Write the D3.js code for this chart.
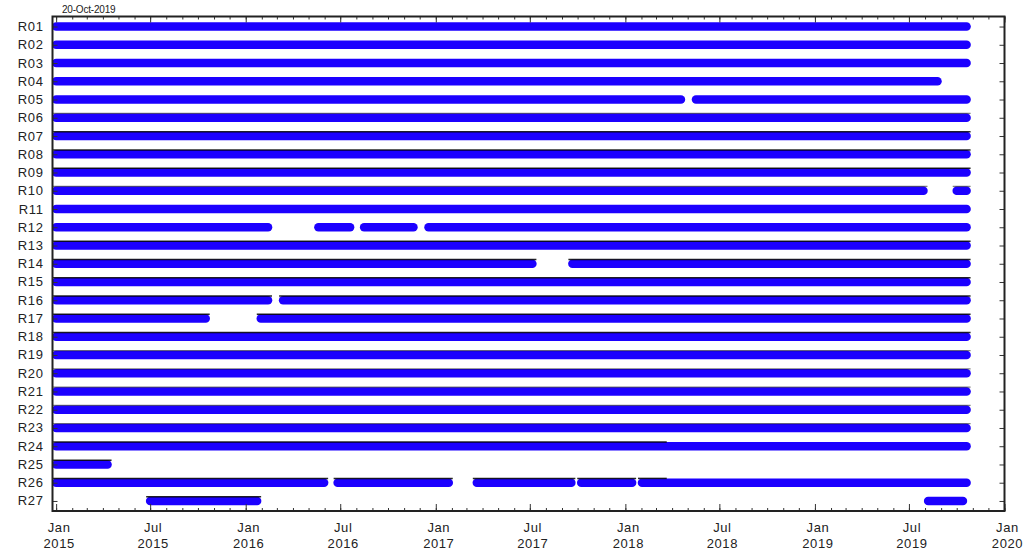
<!DOCTYPE html>
<html><head><meta charset="utf-8">
<script src="https://cdn.jsdelivr.net/npm/d3@7"></script>
<style>
html,body{margin:0;padding:0;background:#fff;}
svg{display:block;font-family:"Liberation Sans",Arial,sans-serif;}
</style></head>
<body><svg id="chart" width="1025" height="554"></svg>
<script>
// ---------- data ----------
const title = "20-Oct-2019";
const stations = ["R01","R02","R03","R04","R05","R06","R07","R08","R09","R10","R11","R12","R13","R14",
  "R15","R16","R17","R18","R19","R20","R21","R22","R23","R24","R25","R26","R27"];
const xDomain = ["2014-12-25","2020-01-01"];
// blue availability segments: [station, start, end]
const blueSegs = [
  ["R01","2015-01-01","2019-10-20"],
  ["R02","2015-01-01","2019-10-20"],
  ["R03","2015-01-01","2019-10-20"],
  ["R04","2015-01-01","2019-08-25"],
  ["R05","2015-01-01","2018-04-18"],["R05","2018-05-17","2019-10-20"],
  ["R06","2015-01-01","2019-10-20"],
  ["R07","2015-01-01","2019-10-20"],
  ["R08","2015-01-01","2019-10-20"],
  ["R09","2015-01-01","2019-10-20"],
  ["R10","2015-01-01","2019-07-29"],["R10","2019-10-01","2019-10-20"],
  ["R11","2015-01-01","2019-10-20"],
  ["R12","2015-01-01","2016-02-13"],["R12","2016-05-20","2016-07-20"],["R12","2016-08-16","2016-11-19"],["R12","2016-12-18","2019-10-20"],
  ["R13","2015-01-01","2019-10-20"],
  ["R14","2015-01-01","2017-07-06"],["R14","2017-09-21","2019-10-20"],
  ["R15","2015-01-01","2019-10-20"],
  ["R16","2015-01-01","2016-02-13"],["R16","2016-03-13","2019-10-20"],
  ["R17","2015-01-01","2015-10-16"],["R17","2016-01-30","2019-10-20"],
  ["R18","2015-01-01","2019-10-20"],
  ["R19","2015-01-01","2019-10-20"],
  ["R20","2015-01-01","2019-10-20"],
  ["R21","2015-01-01","2019-10-20"],
  ["R22","2015-01-01","2019-10-20"],
  ["R23","2015-01-01","2019-10-20"],
  ["R24","2015-01-01","2019-10-20"],
  ["R25","2015-01-01","2015-04-10"],
  ["R26","2015-01-01","2016-05-31"],["R26","2016-06-26","2017-01-26"],["R26","2017-03-21","2017-09-19"],["R26","2017-10-08","2018-01-14"],["R26","2018-02-02","2019-10-20"],
  ["R27","2015-07-01","2016-01-23"],["R27","2019-08-07","2019-10-13"]
];
// black availability segments (strongly visible)
const blackSegsStrong = [
  ["R07","2015-01-01","2019-10-20"],
  ["R08","2015-01-01","2019-10-20"],
  ["R09","2015-01-01","2019-10-20"],
  ["R13","2015-01-01","2019-10-20"],
  ["R14","2015-01-01","2017-07-06"],["R14","2017-09-21","2019-10-20"],
  ["R15","2015-01-01","2019-10-20"],
  ["R16","2015-01-01","2016-02-13"],["R16","2016-03-13","2019-10-20"],
  ["R17","2015-01-01","2015-10-16"],["R17","2016-01-30","2019-10-20"],
  ["R18","2015-01-01","2019-10-20"],
  ["R24","2015-01-01","2018-03-14"],
  ["R25","2015-01-01","2015-04-10"],
  ["R26","2015-01-01","2016-05-31"],["R26","2016-06-26","2017-01-26"],["R26","2017-03-21","2017-09-19"],["R26","2017-10-08","2018-01-14"],["R26","2018-02-02","2018-03-14"],
  ["R27","2015-07-01","2016-01-23"]
];
// black availability segments (faintly visible)
const blackSegsFaint = [
  ["R06","2015-01-01","2019-10-20"],
  ["R10","2015-01-01","2019-07-29"],["R10","2019-10-01","2019-10-20"],
  ["R19","2015-01-01","2019-10-20"],
  ["R20","2015-01-01","2019-10-20"],
  ["R21","2015-01-01","2019-10-20"],
  ["R22","2015-01-01","2019-10-20"],
  ["R23","2015-01-01","2019-10-20"]
];

// ---------- layout ----------
const parse = d3.utcParse("%Y-%m-%d");
const L = 52.5, R = 1004.5, T = 16.5, B = 511;
const svg = d3.select("#chart");
const x = d3.scaleUtc().domain(xDomain.map(parse)).range([L, R]);
const y = d3.scaleLinear().domain([0.45, stations.length + 0.55]).range([T, B]);
const rowY = s => y(stations.indexOf(s) + 1);

svg.append("defs").append("clipPath").attr("id","clip")
  .append("rect").attr("x", L).attr("y", T).attr("width", R - L).attr("height", B - T);

const plot = svg.append("g").attr("clip-path","url(#clip)");

const BLUE = "rgb(28,0,255)";
const CAP = 4;
plot.selectAll("line.blue").data(blueSegs).join("line").attr("class","blue")
  .attr("x1", d => x(parse(d[1]))).attr("x2", d => x(parse(d[2])))
  .attr("y1", d => rowY(d[0])).attr("y2", d => rowY(d[0]))
  .attr("stroke", BLUE).attr("stroke-width", 8.5).attr("stroke-linecap","round");

plot.selectAll("line.bstrong").data(blackSegsStrong).join("line").attr("class","bstrong")
  .attr("x1", d => x(parse(d[1])) - CAP).attr("x2", d => x(parse(d[2])) + CAP)
  .attr("y1", d => rowY(d[0]) - 4.3).attr("y2", d => rowY(d[0]) - 4.3)
  .attr("stroke", "#000").attr("stroke-opacity", 0.85).attr("stroke-width", 1.5);

plot.selectAll("line.bfaint").data(blackSegsFaint).join("line").attr("class","bfaint")
  .attr("x1", d => x(parse(d[1])) - CAP).attr("x2", d => x(parse(d[2])) + CAP)
  .attr("y1", d => rowY(d[0]) - 4.3).attr("y2", d => rowY(d[0]) - 4.3)
  .attr("stroke", "#000").attr("stroke-opacity", 0.5).attr("stroke-width", 1.2);

// ---------- axes ----------
const axisCol = "#333";
const monthTicks = x.ticks(d3.utcMonth.every(1));
const majorTicks = x.ticks(d3.utcMonth.every(6));

function styleAxis(g){
  g.select(".domain").remove();
  g.selectAll(".tick line").attr("stroke", axisCol).attr("stroke-width", 1);
  g.selectAll(".tick text").remove();
}
svg.append("g").attr("transform",`translate(0,${B})`)
  .call(d3.axisBottom(x).tickValues(monthTicks).tickSize(-3).tickFormat("")).call(styleAxis);
svg.append("g").attr("transform",`translate(0,${B})`)
  .call(d3.axisBottom(x).tickValues(majorTicks).tickSize(-7).tickFormat("")).call(styleAxis);
svg.append("g").attr("transform",`translate(0,${T})`)
  .call(d3.axisTop(x).tickValues(monthTicks).tickSize(-3).tickFormat("")).call(styleAxis);
svg.append("g").attr("transform",`translate(0,${T})`)
  .call(d3.axisTop(x).tickValues(majorTicks).tickSize(-6).tickFormat("")).call(styleAxis);

const rowIdx = d3.range(1, stations.length + 1);
svg.append("g").attr("transform",`translate(${L},0)`)
  .call(d3.axisLeft(y).tickValues(rowIdx).tickSize(-5).tickFormat("")).call(styleAxis);
svg.append("g").attr("transform",`translate(${R},0)`)
  .call(d3.axisRight(y).tickValues(rowIdx).tickSize(-5).tickFormat("")).call(styleAxis);

svg.append("rect").attr("x", L).attr("y", T).attr("width", R - L).attr("height", B - T)
  .attr("fill","none").attr("stroke", "#222").attr("stroke-width", 2);

// y labels
svg.append("g").selectAll("text").data(stations).join("text")
  .attr("x", L - 9).attr("y", (d, i) => y(i + 1) + 4.5)
  .attr("text-anchor","end").attr("font-size", 13).attr("letter-spacing", 0.6)
  .attr("fill","#222").text(d => d);

// x labels (two lines)
const fmtM = d3.utcFormat("%b"), fmtY = d3.utcFormat("%Y");
const xl = svg.append("g").selectAll("text").data(majorTicks).join("text")
  .attr("text-anchor","middle").attr("font-size", 13).attr("letter-spacing", 0.6).attr("fill","#222");
xl.append("tspan").attr("x", d => x(d) + 3).attr("y", 532).text(d => fmtM(d));
xl.append("tspan").attr("x", d => x(d) + 3).attr("y", 548).text(d => fmtY(d));

// title
svg.append("text").attr("x", 62).attr("y", 13).attr("font-size", 10).attr("fill","#222")
  .attr("letter-spacing", -0.2).text(title);
</script></body></html>
